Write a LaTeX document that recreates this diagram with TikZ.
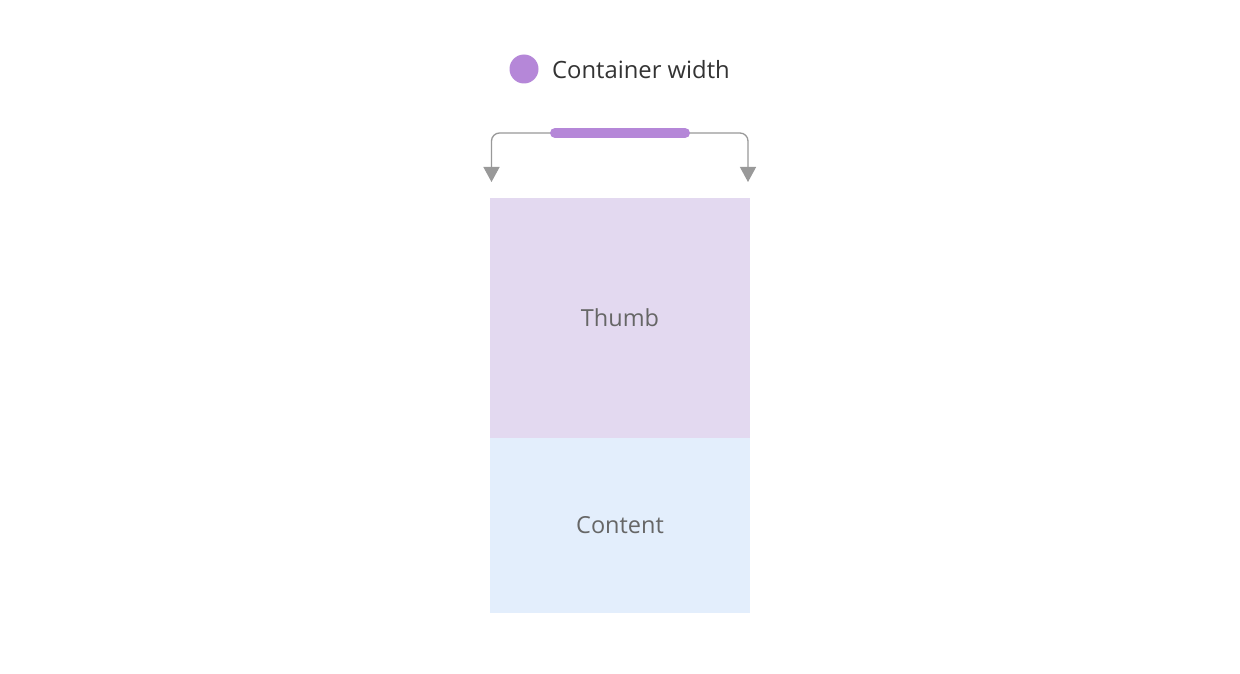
\documentclass[tikz,border=0pt]{standalone}
\usepackage{fontspec}
\setmainfont{Open Sans}
\usetikzlibrary{arrows.meta}
\definecolor{purp}{HTML}{B587D8}
\definecolor{thumbfill}{HTML}{E3D9F0}
\definecolor{contfill}{HTML}{E3EEFC}
\definecolor{arrgray}{HTML}{999999}
\definecolor{txtdark}{HTML}{333333}
\definecolor{txtgray}{HTML}{666666}
\begin{document}
\begin{tikzpicture}[x=1pt,y=-1pt,
  box/.style={draw=none,minimum width=260pt,inner sep=0pt,text=txtgray,font=\fontsize{23.5}{26}\selectfont},
  bracket/.style={draw=arrgray,line width=1.3pt,rounded corners=8pt,-{Triangle[width=16pt,length=15pt]}}]
\useasboundingbox[fill=white] (0,0) rectangle (1240,674);
\node[box,fill=thumbfill,minimum height=240pt] (thumb) at (620,318) {Thumb};
\node[box,fill=contfill,minimum height=175pt] (content) at (620,525.5) {Content};
\node[circle,fill=purp,minimum size=29pt,inner sep=0pt] (dot) at (524,69) {};
\node[anchor=west,text=txtdark,font=\fontsize{23.8}{26}\selectfont,inner sep=0pt] (legend) at (552,70) {Container width};
\coordinate (barL) at (555,133);
\coordinate (barR) at (685,133);
\coordinate (tipL) at (491.5,182);
\coordinate (tipR) at (748,182);
\draw[bracket] (barL) -| (tipL);
\draw[bracket] (barR) -| (tipR);
\draw[purp,line width=10pt,line cap=round] (barL) -- (barR);
\end{tikzpicture}
\end{document}
